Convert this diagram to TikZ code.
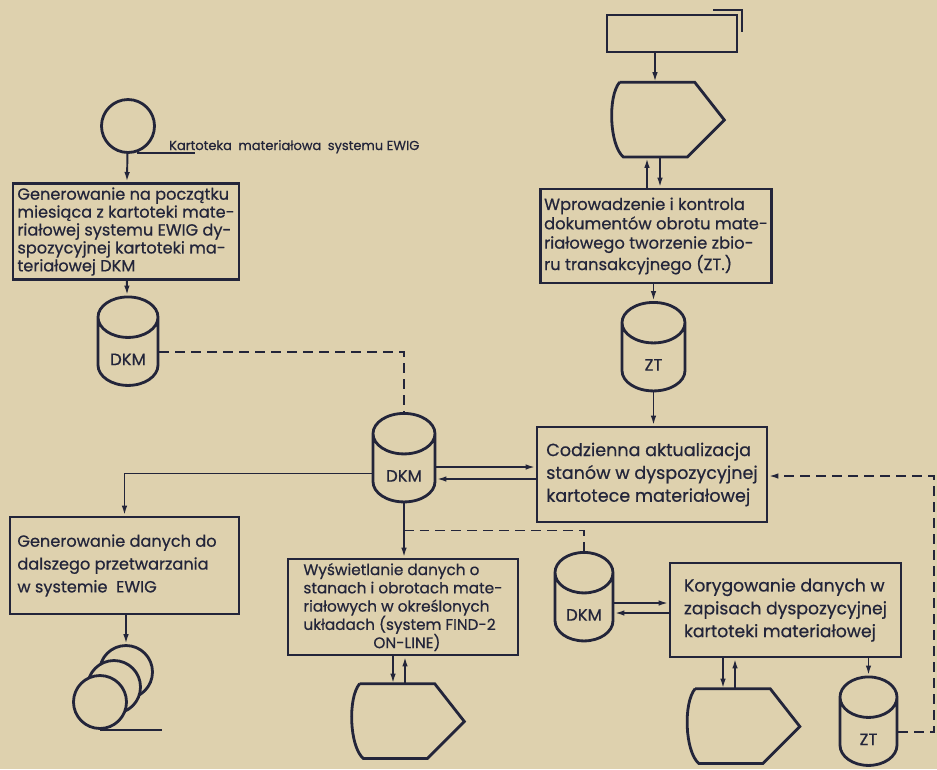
\documentclass[tikz,border=0pt]{standalone}
\usepackage{fontspec}
\setmainfont{Poppins}[FakeBold=0.6]
\usetikzlibrary{arrows.meta,shapes.geometric,positioning}
\definecolor{paper}{RGB}{222,209,174}
\definecolor{ink}{RGB}{35,37,58}
\begin{document}
\begin{tikzpicture}[x=0.02cm, y=-0.02cm, >={Latex[length=2mm,width=1.1mm]},
	conn/.style = {draw=ink, line width=1.1pt},
	arr/.style = {conn, ->},
	dashline/.style = {conn, dash pattern=on 2mm off 1.2mm},
	box/.style = {draw=ink, line width=1.6pt, rectangle, inner sep=0.8mm, align=left, text=ink},
	store/.style = {draw=ink, line width=1.6pt, cylinder, shape border rotate=90, shape aspect=0.9, fill=paper, text=ink, inner sep=0pt, text width=0.9cm, align=center, text height=15pt, text depth=0pt, minimum width=1.2cm, minimum height=1.7cm, font=\fontsize{9.4}{10}\selectfont},
	disp/.style = {inner sep=0pt, minimum width=2.28cm, minimum height=1.5cm},
	outline/.style = {draw=ink, line width=1.6pt},
	reel/.style = {draw=ink, line width=1.6pt, circle, fill=paper, inner sep=0pt, minimum size=1.06cm}]
	\fill[paper] (0,0) rectangle (937,769);
	\useasboundingbox (0,0) rectangle (937,769);
	% left column
	\node[reel] (src) at (128,126) {};
	\node[anchor=base west, text=ink, font=\fontsize{7.4}{10}\selectfont] (srclab) at (163,150) {Kartoteka\enspace materiałowa\enspace systemu EWIG};
	\coordinate (srcend) at (195,154);
	\node[box, minimum width=4.52cm, minimum height=1.86cm, font=\fontsize{9.2}{10.2}\selectfont] (gen) at (126,231.5) {Generowanie na początku\\ miesiąca z kartoteki mate-\\ riałowej systemu EWIG dy-\\ spozycyjnej kartoteki ma-\\ teriałowej DKM\hspace*{1.4cm}};
	\node[store] (dkma) at (128,352) {DKM};
	\node[box, minimum width=4.58cm, minimum height=1.94cm, font=\fontsize{9.2}{13}\selectfont] (out) at (124.5,565.5) {Generowanie danych do\hspace*{0.3cm}\\ dalszego przetwarzania\\ w systemie\ \ EWIG};
	\node[reel] (tapeA) at (126,672) {};
	\node[reel] (tapeB) at (114,687) {};
	\node[reel] (tapeC) at (100,702) {};
	\coordinate (tapeend) at (162,728);
	% right column
	\node[box, minimum width=2.6cm, minimum height=0.74cm] (tbox) at (672,33.5) {};
	\node[disp] (disp1) at (667,120) {};
	\node[box, minimum width=4.56cm, minimum height=1.88cm, font=\fontsize{9.3}{11}\selectfont] (entry) at (656,236) {Wprowadzenie i kontrola\\ dokumentów obrotu mate-\\ riałowego tworzenie zbio-\\ ru transakcyjnego (ZT.)};
	\node[store, minimum width=1.26cm] (zta) at (653.5,357.5) {ZT};
	\node[box, minimum width=4.6cm, minimum height=1.9cm, font=\fontsize{10}{13}\selectfont] (upd) at (652,474.5) {Codzienna aktualizacja\\ stanów w dyspozycyjnej\\ kartotece materiałowej};
	% middle
	\node[store, minimum width=1.24cm, minimum height=1.74cm] (dkmb) at (404,468.5) {DKM};
	\node[box, minimum width=4.6cm, minimum height=1.92cm, font=\fontsize{8.7}{10.4}\selectfont] (show) at (403,607) {Wyświetlanie danych o\\ stanach i obrotach mate-\\ riałowych w określonych\\ układach (system FIND-2\\ \hspace*{1.4cm}ON-LINE)};
	\node[disp] (disp2) at (407,721.5) {};
	\node[store, minimum width=1.16cm, minimum height=1.62cm] (dkmc) at (584,607.5) {DKM};
	\node[box, minimum width=4.62cm, minimum height=1.88cm, font=\fontsize{9.8}{13}\selectfont] (fix) at (785.5,610) {Korygowanie danych w\\ zapisach dyspozycyjnej\\ kartoteki materiałowej};
	\node[disp] (disp3) at (742.5,726.5) {};
	\node[store, minimum width=1.14cm, minimum height=1.58cm] (ztb) at (868.5,732) {ZT};
	\coordinate (back) at (934,476);
	% display outlines
	\draw[outline] (disp1.north west) ++(10,0) coordinate (d1s) -- ++(75,0) -- (disp1.east) -- ++(-37,37) -- ++(-64,0) .. controls +(-14,-12) and +(-12,14) .. (d1s);
	\draw[outline] (disp2.north west) ++(10,0) coordinate (d2s) -- ++(75,0) -- (disp2.east) -- ++(-37,37) -- ++(-64,0) .. controls +(-14,-12) and +(-12,14) .. (d2s);
	\draw[outline] (disp3.north west) ++(10,0) coordinate (d3s) -- ++(75,0) -- (disp3.east) -- ++(-37,37) -- ++(-64,0) .. controls +(-14,-12) and +(-12,14) .. (d3s);
	% connectors
	\draw[conn] (src.-72) -- (src.-72 -| srcend);
	\draw[arr] (src) -- (gen);
	\draw[arr] (gen) -- (dkma);
	\draw[dashline] (dkma.east) -| (dkmb.north);
	\draw[arr] ([yshift=-1mm]dkmb.west) -| (out.north);
	\draw[arr] (tapeA.north |- out.south) -- (tapeA.north);
	\draw[conn] (tapeC.south) -- (tapeC.south -| tapeend);
	\draw[conn] ([shift={(-25,-4)}]tbox.north east) -| ([shift={(4,18)}]tbox.north east);
	\draw[arr] ([xshift=-2.4mm]disp1.north |- tbox.south) -- ([xshift=-2.4mm]disp1.north);
	\draw[arr] ([xshift=-4mm]disp1.south |- entry.north) -- ([xshift=-4mm]disp1.south);
	\draw[arr] ([xshift=-1.4mm]disp1.south) -- ([xshift=-1.4mm]disp1.south |- entry.north);
	\draw[arr] (zta.north |- entry.south) -- (zta.north);
	\draw[arr] (zta.south) -- (zta.south |- upd.north);
	\draw[arr] ([yshift=0.3mm]dkmb.east) -- ([yshift=0.3mm]dkmb.east -| upd.west);
	\draw[arr] ([yshift=-2.1mm]dkmb.east -| upd.west) -- ([yshift=-2.1mm]dkmb.east);
	\draw[arr] (dkmb.south) -- (dkmb.south |- show.north);
	\path (dkmb.south) -- (show.north) coordinate[pos=0.5] (fork);
	\draw[dashline] (fork) -| (dkmc.north);
	\draw[arr] ([xshift=-2.8mm]disp2.north |- show.south) -- ([xshift=-2.8mm]disp2.north);
	\draw[arr] ([xshift=-0.4mm]disp2.north) -- ([xshift=-0.4mm]disp2.north |- show.south);
	\draw[arr] ([yshift=0.9mm]dkmc.east) -- ([yshift=0.9mm]dkmc.east -| fix.west);
	\draw[arr] ([yshift=-1.1mm]dkmc.east -| fix.west) -- ([yshift=-1.1mm]dkmc.east);
	\draw[arr] ([xshift=-3.9mm]disp3.north |- fix.south) -- ([xshift=-3.9mm]disp3.north);
	\draw[arr] ([xshift=-1.5mm]disp3.north) -- ([xshift=-1.5mm]disp3.north |- fix.south);
	\draw[arr] (ztb.north |- fix.south) -- (ztb.north);
	\draw[dashline, ->] (ztb.east) -| (back) -- (back -| upd.east);
\end{tikzpicture}
\end{document}
